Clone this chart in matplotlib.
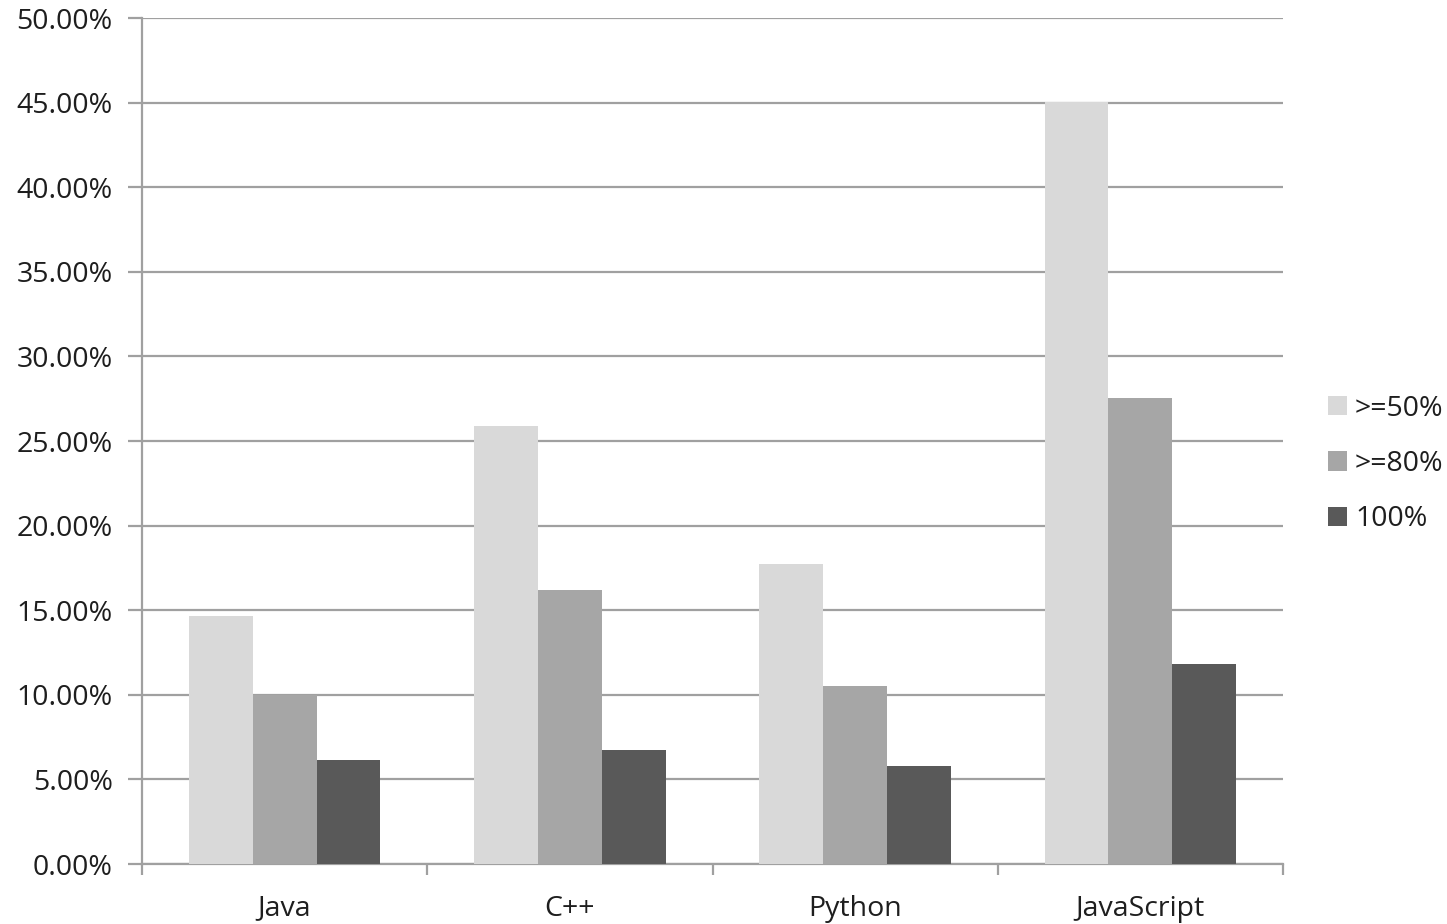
import matplotlib.pyplot as plt
import numpy as np
from matplotlib.ticker import FuncFormatter, MultipleLocator

plt.rcParams['font.family'] = ['Open Sans', 'DejaVu Sans']

# share of tasks reaching each pass threshold, per language
languages = ['Java', 'C++', 'Python', 'JavaScript']
series_names = ['>=50%', '>=80%', '100%']
pass_50 = [14.66, 25.89, 17.73, 45.04]
pass_80 = [9.99, 16.19, 10.52, 27.54]
pass_100 = [6.15, 6.74, 5.79, 11.82]
colors = ['#D9D9D9', '#A6A6A6', '#595959']

text_color = '#1E1E1E'
grid_color = '#A0A0A0'
fs = 20.5

fig = plt.figure(figsize=(14.47, 9.24), dpi=100)
ax = fig.add_axes([0.0981, 0.0649, 0.7886, 0.9156])

x = np.arange(len(languages))
w = 0.224
for i, (vals, name, c) in enumerate(zip([pass_50, pass_80, pass_100], series_names, colors)):
    ax.bar(x + (i - 1) * w, vals, width=w, color=c, label=name, zorder=3)

ax.set_xlim(-0.5, len(languages) - 0.5)
ax.set_ylim(0, 50)
ax.yaxis.set_major_locator(MultipleLocator(5))
ax.yaxis.set_major_formatter(FuncFormatter(lambda v, p: '%.2f%%' % v))
ax.grid(axis='y', color=grid_color, linewidth=1.6, zorder=0)

# category ticks sit on the boundaries between groups
ax.set_xticks(np.arange(len(languages) + 1) - 0.5)
ax.set_xticklabels([])
ax.set_xticks(x, minor=True)
ax.set_xticklabels(languages, minor=True)
ax.tick_params(axis='x', which='major', direction='out', length=8, width=1.6, color=grid_color)
ax.tick_params(axis='x', which='minor', length=0, pad=22, labelsize=fs, labelcolor=text_color)
ax.tick_params(axis='y', direction='out', length=10, width=1.6, color=grid_color,
               pad=11, labelsize=fs, labelcolor=text_color)

for side in ['top', 'right']:
    ax.spines[side].set_visible(False)
for side in ['left', 'bottom']:
    ax.spines[side].set_color(grid_color)
    ax.spines[side].set_linewidth(1.6)

leg = fig.legend(loc='center left', bbox_to_anchor=(1328 / 1447, 1 - 464 / 924),
                 frameon=False, fontsize=fs, handlelength=0.65, handleheight=0.65,
                 handletextpad=0.3, labelspacing=0.95, borderpad=0, borderaxespad=0,
                 labelcolor=text_color)

fig.savefig('out.png', dpi=100)
